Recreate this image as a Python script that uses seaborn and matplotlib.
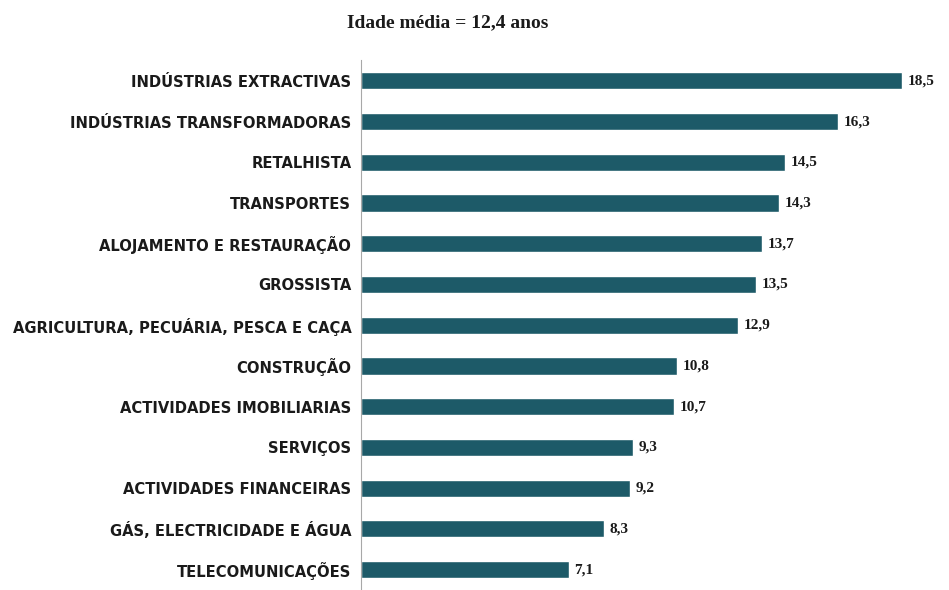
#!/usr/bin/env python3

import numpy as np
import matplotlib.pyplot as plt
import pandas as pd
import seaborn as sns

SET_DPI = 100
FIGSIZE = (9.49, 5.90)
BAR_COLOUR = '#1d5a68'

SECTORS = ['INDÚSTRIAS EXTRACTIVAS', 'INDÚSTRIAS TRANSFORMADORAS', 'RETALHISTA',
           'TRANSPORTES', 'ALOJAMENTO E RESTAURAÇÃO', 'GROSSISTA',
           'AGRICULTURA, PECUÁRIA, PESCA E CAÇA', 'CONSTRUÇÃO',
           'ACTIVIDADES IMOBILIARIAS', 'SERVIÇOS', 'ACTIVIDADES FINANCEIRAS',
           'GÁS, ELECTRICIDADE E ÁGUA', 'TELECOMUNICAÇÕES']
AGES = [18.5, 16.3, 14.5, 14.3, 13.7, 13.5, 12.9, 10.8, 10.7, 9.3, 9.2, 8.3, 7.1]
TITLE = 'Idade média = 12,4 anos'


def plot_ages():
    data = pd.DataFrame({'sector': SECTORS, 'age': AGES})

    sns.set_style('white')
    fig = plt.figure(figsize=FIGSIZE, dpi=SET_DPI)
    ax = fig.add_axes([0.3804, 0.0, 0.6164, 0.8976])

    sns.barplot(data=data, x='age', y='sector', orient='h', color=BAR_COLOUR,
                saturation=1, width=0.42, ax=ax)

    ax.set_xlim(0, 20)
    ax.set_ylim(12.34, -0.5)
    ax.set_xlabel('')
    ax.set_ylabel('')
    ax.set_xticks([])

    for side in ['top', 'right', 'bottom']:
        ax.spines[side].set_visible(False)
    ax.spines['left'].set_color('#a8a8a8')
    ax.spines['left'].set_linewidth(0.8)

    # category labels, tick marks between bars
    ax.set_yticks(range(len(SECTORS)))
    ax.set_yticklabels(SECTORS, fontsize=10.6, fontweight='bold',
                       family='DejaVu Sans', color='#1a1a1a')
    ax.tick_params(axis='y', which='major', length=0, pad=7)
    ax.set_yticks(np.arange(-0.5, len(SECTORS), 1), minor=True)
    ax.tick_params(axis='y', which='minor', length=3, direction='inout',
                   color='#a8a8a8', width=0.8)

    for i, val in enumerate(AGES):
        ax.text(val + 0.2, i, f'{val:.1f}'.replace('.', ','), va='center',
                ha='left', fontsize=11, fontweight='bold',
                family='Liberation Serif', color='#1a1a1a')

    fig.text(0.472, 0.962, TITLE, ha='center', va='center', fontsize=14,
             fontweight='bold', family='Liberation Serif', color='#1a1a1a')

    fig.savefig('out.png', dpi=SET_DPI)
    plt.close()


if __name__ == '__main__':
    plot_ages()
